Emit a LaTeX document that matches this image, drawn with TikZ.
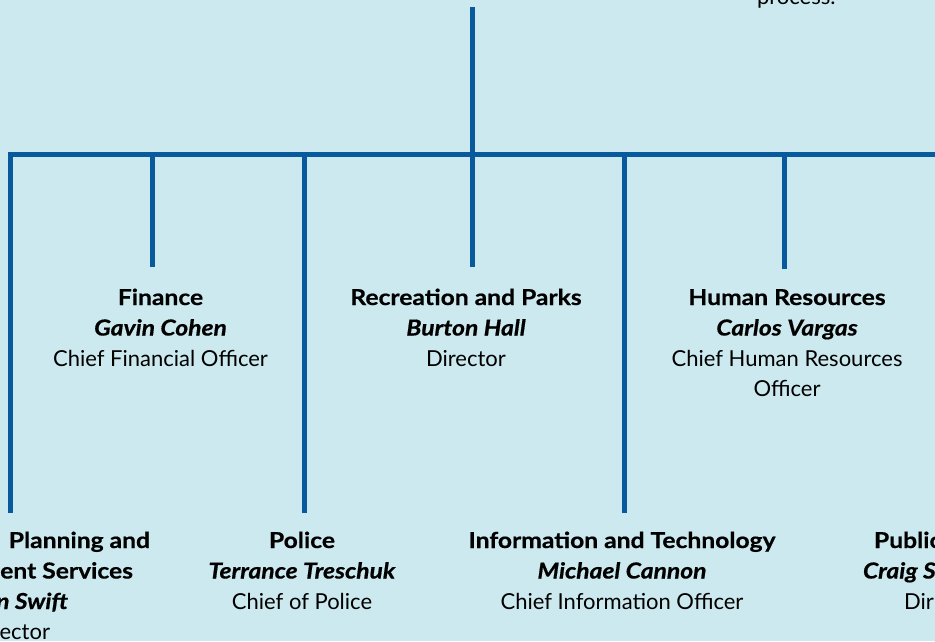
\documentclass[tikz,border=0pt]{standalone}
\usepackage{fontspec}
\setmainfont{Lato}[
  BoldFeatures={FakeStretch=1.12,FakeBold=0.6},
  BoldItalicFeatures={FakeStretch=1.12,FakeBold=0.6}]
\definecolor{paper}{RGB}{203,233,238}
\definecolor{orgline}{RGB}{8,90,156}
\newcommand{\orgrows}[1]{\begin{tabular}[t]{@{}c@{}}#1\end{tabular}}
\newcommand{\hd}[1]{\textbf{#1}}
\newcommand{\who}[1]{\textbf{\textit{#1}}}
\begin{document}
\begin{tikzpicture}[x=1pt,y=-1pt,
  conn/.style={draw=orgline,line width=5pt,line cap=butt,line join=miter},
  unit/.style={inner sep=0pt,outer sep=0pt,anchor=base,
    font=\fontsize{22}{30.5}\selectfont,text=black},
  frag/.style={inner sep=0pt,outer sep=0pt,
    font=\fontsize{22}{30.5}\selectfont,text=black}]
\useasboundingbox (0,0) rectangle (935,641);
\clip (0,0) rectangle (935,641);
\fill[paper] (0,0) rectangle (935,641);

% spine and branch points
\coordinate (top) at (472,7);
\coordinate (hub) at (472,154);
\coordinate (barL) at (10,154);
\coordinate (barR) at (940,154);
\coordinate (dPlan) at (10,513);
\coordinate (bFin) at (152,154);   \coordinate (dFin) at (152,267);
\coordinate (bPol) at (304,154);   \coordinate (dPol) at (304,513);
\coordinate (dRec) at (472,267);
\coordinate (bIT) at (624,154);    \coordinate (dIT) at (624,513);
\coordinate (bHR) at (784,154);    \coordinate (dHR) at (784,269);

\draw[conn] (top) -- (hub);
\draw[conn] (dPlan) -- (barL) -- (barR);
\draw[conn] (bFin) -- (dFin);
\draw[conn] (bPol) -- (dPol);
\draw[conn] (hub) -- (dRec);
\draw[conn] (bIT) -- (dIT);
\draw[conn] (bHR) -- (dHR);

% text above
\node[frag,anchor=base west] (process) at (757,4) {process.};

% upper row of departments
\node[unit] (finance) at (160.5,305) {\orgrows{\hd{Finance}\\\who{Gavin Cohen}\\Chief Financial Officer}};
\node[unit] (recreation) at (466,305) {\orgrows{\hd{Recreation and Parks}\\\who{Burton Hall}\\Director}};
\node[unit] (hr) at (787,305) {\orgrows{\hd{Human Resources}\\\who{Carlos Vargas}\\Chief Human Resources\\Officer}};

% lower row of departments
\node[frag,anchor=base east] (plan1) at (150,548) {\hd{Planning and}};
\node[frag,anchor=base east] (plan2) at (133,578.5) {\hd{ent Services}};
\node[frag,anchor=base east] (plan3) at (68,609) {\who{n Swift}};
\node[frag,anchor=base east] (plan4) at (50,639.5) {ector};
\node[unit] (police) at (302,548) {\orgrows{\hd{Police}\\\who{Terrance Treschuk}\\Chief of Police}};
\node[unit] (it) at (622,548) {\orgrows{\hd{Information and Technology}\\\who{Michael Cannon}\\Chief Information Officer}};
\node[frag,anchor=base west] (pub1) at (874,548) {\hd{Public}};
\node[frag,anchor=base west] (pub2) at (863,578.5) {\who{Craig S}};
\node[frag,anchor=base west] (pub3) at (904,609) {Dir};
\end{tikzpicture}
\end{document}
